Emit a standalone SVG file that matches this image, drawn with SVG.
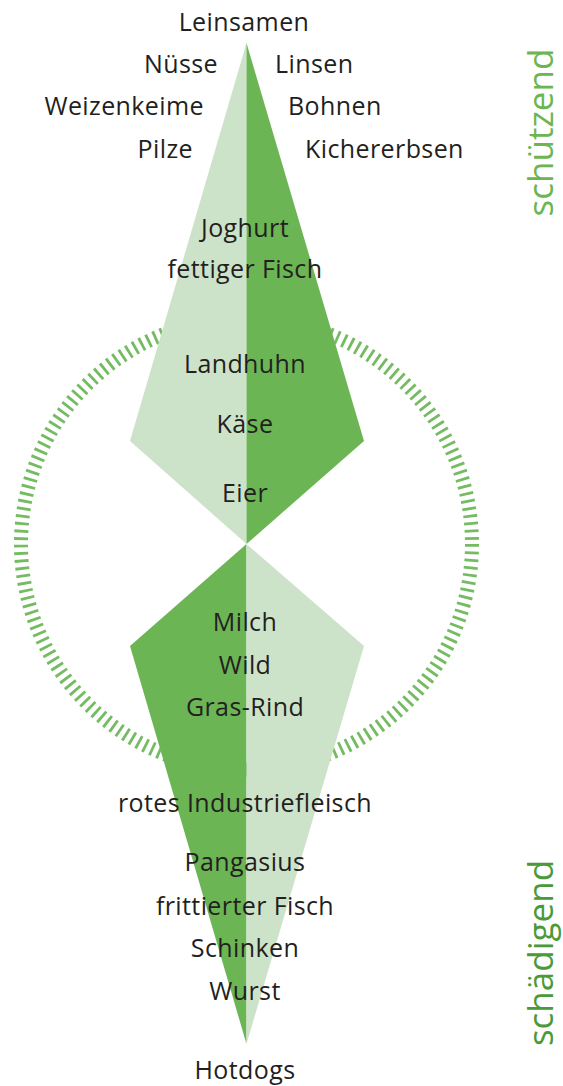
<svg xmlns="http://www.w3.org/2000/svg" width="563" height="1086" viewBox="0 0 563 1086">
<style>
.t{font-family:"Open Sans","Noto Sans","DejaVu Sans",sans-serif;font-size:25px;font-weight:500;letter-spacing:0.4px;fill:#231f20;text-anchor:middle}
.l{text-anchor:end}
.r{text-anchor:start}
.v{font-family:"Open Sans","Noto Sans","DejaVu Sans",sans-serif;font-size:35px;text-anchor:middle}
.light{fill:#cde3c9}
.dark{fill:#6bb554}
</style>
<rect width="563" height="1086" fill="#ffffff"/>
<g id="ring">
<circle cx="246.5" cy="544" r="225.5" fill="none" stroke="#74bb62" stroke-width="14" stroke-dasharray="2.8 4.6966"/>
</g>
<g id="needle">
<polygon class="light" points="246.5,43 246.5,544 130,441"/>
<polygon class="dark" points="246.5,43 364,441 246.5,544"/>
<polygon class="dark" points="246.5,544 130,646 246.5,1044"/>
<polygon class="light" points="246.5,544 364,646 246.5,1044"/>
</g>
<g id="labels">
<text class="t" x="244" y="31">Leinsamen</text>
<text class="t l" x="218" y="73">Nüsse</text>
<text class="t r" x="275" y="73">Linsen</text>
<text class="t l" x="204" y="115">Weizenkeime</text>
<text class="t r" x="288" y="115">Bohnen</text>
<text class="t l" x="193" y="158">Pilze</text>
<text class="t r" x="305" y="158">Kichererbsen</text>
<text class="t" x="245" y="237">Joghurt</text>
<text class="t" x="245" y="278">fettiger Fisch</text>
<text class="t" x="245" y="373">Landhuhn</text>
<text class="t" x="245" y="433">Käse</text>
<text class="t" x="245" y="502">Eier</text>
<text class="t" x="245" y="631">Milch</text>
<text class="t" x="245" y="674">Wild</text>
<text class="t" x="245" y="716">Gras-Rind</text>
<text class="t" x="245" y="812">rotes Industriefleisch</text>
<text class="t" x="245" y="871">Pangasius</text>
<text class="t" x="245" y="915">frittierter Fisch</text>
<text class="t" x="245" y="957">Schinken</text>
<text class="t" x="245" y="1000">Wurst</text>
<text class="t" x="245" y="1079">Hotdogs</text>
</g>
<g id="axis-labels">
<text class="v" fill="#6db552" transform="translate(553,132.5) rotate(-90)">schützend</text>
<text class="v" fill="#4a9a3a" transform="translate(553,953) rotate(-90)">schädigend</text>
</g>
</svg>
